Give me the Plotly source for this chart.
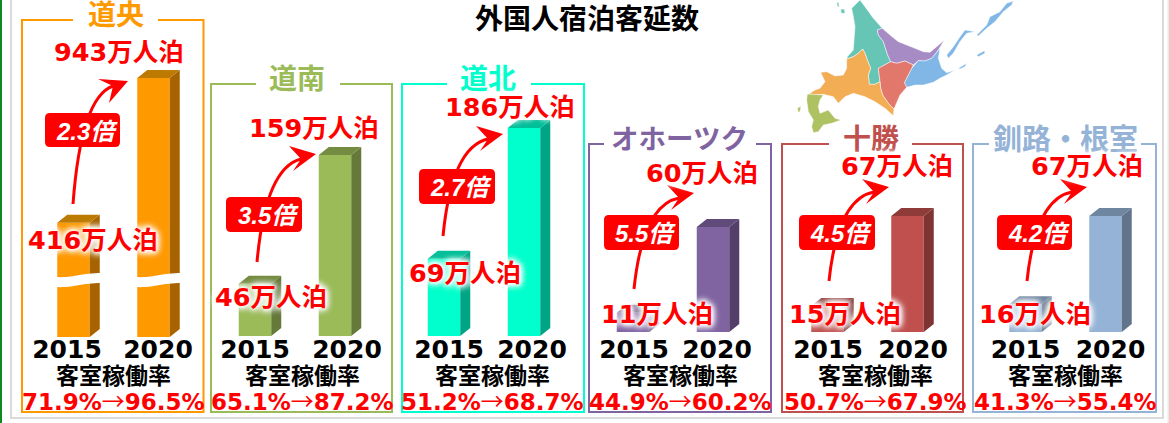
import plotly.graph_objects as go

W, H = 1169, 423

# ---------- data ----------
regions = ["道央", "道南", "道北", "オホーツク", "十勝", "釧路・根室"]
years = ["2015", "2020"]
guests_2015 = [416, 46, 69, 11, 15, 16]
guests_2020 = [943, 159, 186, 60, 67, 67]
multiples = ["2.3", "3.5", "2.7", "5.5", "4.5", "4.2"]
occupancy_2015 = ["71.9", "65.1", "51.2", "44.9", "50.7", "41.3"]
occupancy_2020 = ["96.5", "87.2", "68.7", "60.2", "67.9", "55.4"]
title_text = "外国人宿泊客延数"
occupancy_title = "客室稼働率"

# ---------- styles / layout ----------
front = ["#FF9900", "#9BBB59", "#00FFCC", "#8064A2", "#C0504D", "#95B3D7"]
side = ["#A66300", "#657A3A", "#00A585", "#533F6A", "#7D3432", "#61748C"]
top = ["#BD7A00", "#748C42", "#00BF99", "#5F4A79", "#8F3B39", "#6F86A1"]
label_col = ["#FF9900", "#9BBB59", "#00FFCC", "#8064A2", "#C0504D", "#95B3D7"]

bar0_center = [73.5, 255, 444, 633, 827.5, 1025.5]
base_px = [337, 336, 336, 332, 332, 332]
px_per_unit = [0.2747, 1.138, 1.118, 1.75, 1.73, 1.73]
axis_top = [1100, 190, 225, 75, 80, 80]
tick_px = [(67, 158), (255, 347), (449, 532), (634, 717), (828, 913), (1025.5, 1110.5)]
tick_standoff = [-5, -4, -4, 0, 0, 0]

box = [(22, 203.5, 20), (211, 392, 84), (402, 584, 84), (589, 771, 144), (782, 963, 144), (973, 1156, 144)]
box_bottom = 412
gap = [(73, 158), (256, 340), (447, 531), (604, 756), (829, 912), (989, 1141)]
label_xy = [(115.5, 13), (297, 77), (488, 77), (679, 137), (871, 137), (1065, 137)]
label_size = [28, 28, 28, 27.5, 28, 29]
mid_x = [113, 302, 492, 680, 875, 1065]
v20_xy = [(119, 52), (314, 128), (510, 107), (702, 173), (897, 166), (1087, 166)]
v15_xy = [(93, 240), (271, 297), (465, 273), (657, 314), (845, 314), (1035, 314)]

arrow_start = [(73, 204), (257, 262), (443, 236), (634, 289), (829, 281), (1027, 281)]
arrow_tip = [(128, 81), (316, 154), (503, 134), (694, 193), (889, 187), (1087, 187)]
mult_box = [(45, 120, 113, 147), (226, 302, 197, 232), (419, 495, 169, 204),
            (604, 679, 215, 250), (799, 875, 215, 250), (997, 1072, 215, 250)]

BAR_W = 32.5 / 80
SIDE_DX = 10 / 80
SIDE_DY_PX = 8

LATIN_CJK = "DejaVu Sans, Noto Sans CJK JP"
CJK = "Noto Sans CJK JP, DejaVu Sans"
GLOW = "0 0 3px #fff,0 0 5px #fff,0 0 7px #fff,0 0 7px #fff,0 0 9px #fff,0 0 9px #fff"


def px(x):
    return x / W


def py(y):
    return 1 - y / H


def P(x, y):
    return f"{px(x):.5f},{py(y):.5f}"


def poly(pts):
    return "M" + " L".join(P(*p) for p in pts) + " Z"


fig = go.Figure()
shapes, annots = [], []

# ---------- frame ----------
for x0, y0, x1, y1, c in [
    (0, 0, 2, 423, "#0A8A20"),
    (10, 0, 12, 419, "#DADADA"),
    (10, 417, 1164, 419, "#DADADA"),
    (1162, 0, 1164, 419, "#DADADA"),
    (1167.5, 0, 1169, 423, "#DDF0DD"),
]:
    shapes.append(dict(type="rect", xref="paper", yref="paper", x0=px(x0), x1=px(x1), y0=py(y0), y1=py(y1),
                       fillcolor=c, line_width=0, layer="below"))

# ---------- hokkaido map (decorative) ----------
MAP = [
    ("#66C5B5", [(210,0),(225,20),(250,55),(277,85),(262,90),(265,105),(280,125),(288,150),(293,165),(302,185),(265,205),(270,245),(255,253),(238,253),(235,225),(242,205),(232,180),(225,160),(218,147),(205,160),(190,170),(170,177),(172,170),(190,150),(192,120),(195,80),(190,50),(185,25),(200,10)]),
    ("#66C5B5", [(140,8),(145,6),(148,20),(143,20)]),
    ("#66C5B5", [(152,28),(163,27),(165,40),(154,40)]),
    ("#A68BC4", [(277,85),(300,105),(325,125),(350,135),(375,145),(400,155),(420,157),(440,140),(463,120),(445,150),(425,175),(405,183),(385,182),(370,195),(345,183),(320,190),(302,185),(293,165),(288,150),(280,125),(265,105),(262,90)]),
    ("#80B7E6", [(450,145),(445,175),(455,205),(470,218),(495,210),(470,225),(450,235),(430,247),(400,255),(375,255),(350,262),(343,248),(365,205),(385,182),(405,183),(425,175)]),
    ("#80B7E6", [(470,165),(490,140),(510,110),(525,90),(555,95),(530,100),(510,125),(490,160),(475,175)]),
    ("#80B7E6", [(560,105),(590,75),(600,50),(630,35),(650,10),(670,3),(665,15),(640,35),(615,65),(590,85),(565,108)]),
    ("#80B7E6", [(560,165),(583,152),(585,160),(565,170)]),
    ("#80B7E6", [(505,205),(530,190),(525,200),(510,207)]),
    ("#E2786C", [(302,185),(320,190),(345,183),(370,195),(365,205),(343,248),(350,262),(330,285),(315,320),(312,327),(295,310),(278,285),(272,265),(270,245),(265,205)]),
    ("#F2AD55", [(218,147),(225,160),(232,180),(242,205),(235,225),(238,253),(255,253),(270,245),(272,265),(278,285),(295,310),(312,327),(310,347),(285,325),(255,305),(225,290),(190,280),(165,290),(145,310),(130,290),(100,283),(70,285),(57,282),(75,270),(90,265),(105,245),(92,217),(110,215),(135,228),(160,225),(170,205),(170,177),(190,170),(205,160)]),
    ("#AEC163", [(52,282),(100,285),(90,300),(85,320),(90,340),(115,330),(135,355),(153,360),(125,370),(100,375),(85,395),(70,398),(65,380),(70,360),(55,335),(50,300)]),
    ("#AEC163", [(22,325),(33,318),(30,335),(25,337)]),
]
for col, pts in MAP:
    shapes.append(dict(type="path", xref="paper", yref="paper", layer="below", fillcolor=col,
                       line=dict(color="#FFFFFF", width=0.5),
                       path=poly([(790 + a / 3, b / 3) for a, b in pts])))

# ---------- panels, bars ----------
layout_axes = {}
for i, region in enumerate(regions):
    sfx = "" if i == 0 else str(i + 1)
    c0, base, scale = bar0_center[i], base_px[i], px_per_unit[i]
    height_px = axis_top[i] * scale
    layout_axes[f"xaxis{sfx}"] = dict(
        domain=[px(c0 - 40), px(c0 + 120)], range=[-0.5, 1.5], anchor=f"y{sfx}",
        showgrid=False, zeroline=False, showline=False, ticks="",
        tickvals=[(t - c0) / 80 for t in tick_px[i]], ticktext=years,
        tickangle=0, tickfont=dict(family="DejaVu Sans", size=25, color="#000000", weight="bold"),
        ticklabelstandoff=tick_standoff[i],
    )
    layout_axes[f"yaxis{sfx}"] = dict(
        domain=[py(base), py(base - height_px)], range=[0, axis_top[i]], anchor=f"x{sfx}",
        showgrid=False, zeroline=False, showline=False, showticklabels=False, ticks="",
    )
    xa, ya = f"x{sfx}", f"y{sfx}"
    vals = [guests_2015[i], guests_2020[i]]
    dy = SIDE_DY_PX / scale
    fig.add_trace(go.Bar(x=[0, 1], y=vals, width=BAR_W, marker=dict(color=front[i], line_width=0),
                         xaxis=xa, yaxis=ya, showlegend=False, hoverinfo="skip", name=region))
    for k, v in enumerate(vals):
        xl, xr = k - BAR_W / 2, k + BAR_W / 2
        fig.add_trace(go.Scatter(x=[xr, xr, xr + SIDE_DX, xr + SIDE_DX, xr], y=[0, v, v + dy, dy, 0],
                                 mode="lines", fill="toself", fillcolor=side[i], line_width=0,
                                 xaxis=xa, yaxis=ya, showlegend=False, hoverinfo="skip"))
        fig.add_trace(go.Scatter(x=[xl, xr, xr + SIDE_DX, xl + SIDE_DX, xl], y=[v, v, v + dy, v + dy, v],
                                 mode="lines", fill="toself", fillcolor=top[i], line_width=0,
                                 xaxis=xa, yaxis=ya, showlegend=False, hoverinfo="skip"))

    # panel outline with a gap for the heading
    l, r, t = box[i]
    g0, g1 = gap[i]
    outline = "M" + " L".join(P(*p) for p in [(g1, t), (r, t), (r, box_bottom), (l, box_bottom), (l, t), (g0, t)])
    shapes.append(dict(type="path", xref="paper", yref="paper", layer="below", path=outline,
                       line=dict(color=front[i], width=2)))

    # heading
    annots.append(dict(text=region, x=px(label_xy[i][0]), y=py(label_xy[i][1]), xref="paper", yref="paper",
                       showarrow=False, xanchor="center", yanchor="middle",
                       font=dict(family=CJK, size=label_size[i], color=label_col[i], weight="bold")))
    # value labels
    for val, (lx, ly) in ((guests_2015[i], v15_xy[i]), (guests_2020[i], v20_xy[i])):
        annots.append(dict(text=f"{val}万人泊", x=px(lx), y=py(ly), xref="paper", yref="paper",
                           showarrow=False, xanchor="center", yanchor="middle",
                           font=dict(family=LATIN_CJK, size=25.5, color="#FF0000", weight="bold", shadow=GLOW)))
    # occupancy
    annots.append(dict(text=occupancy_title, x=px(mid_x[i]), y=py(374), xref="paper", yref="paper",
                       showarrow=False, xanchor="center", yanchor="middle",
                       font=dict(family=CJK, size=23, color="#000000", weight="bold")))
    arrow_char = "<span style='font-family:Noto Sans CJK JP;font-weight:400'>→</span>"
    annots.append(dict(text=f"{occupancy_2015[i]}%{arrow_char}{occupancy_2020[i]}%",
                       x=px(mid_x[i]), y=py(400), xref="paper", yref="paper",
                       showarrow=False, xanchor="center", yanchor="middle",
                       font=dict(family="DejaVu Sans", size=23, color="#FF0000", weight="bold")))

    # curved arrow
    sx, sy = arrow_start[i]
    tx, ty = arrow_tip[i]
    dx_, dy_ = tx - sx, sy - ty
    nx, ny = tx - 15, ty + 5
    c1 = (sx + 0.1 * dx_, sy - 0.6 * dy_)
    c2 = (sx + 0.35 * dx_, ty + 0.1 * dy_)
    shapes.append(dict(type="path", xref="paper", yref="paper", layer="above",
                       path=f"M{P(sx, sy)} C{P(*c1)} {P(*c2)} {P(nx, ny)}",
                       line=dict(color="#FF0000", width=3)))
    b1, b2 = ((-30, -2), (-19, 22)) if i == 0 else ((-27, -8), (-23, 17))
    shapes.append(dict(type="path", xref="paper", yref="paper", layer="above", fillcolor="#FF0000", line_width=0,
                       path=poly([(tx, ty), (tx + b1[0], ty + b1[1]), (nx, ny), (tx + b2[0], ty + b2[1])])))
    # multiple badge
    x0, x1, y0, y1 = mult_box[i]
    rr = 5
    shapes.append(dict(type="path", xref="paper", yref="paper", layer="above", fillcolor="#FF0000", line_width=0,
                       path=(f"M{P(x0 + rr, y0)} L{P(x1 - rr, y0)} Q{P(x1, y0)} {P(x1, y0 + rr)} L{P(x1, y1 - rr)} "
                             f"Q{P(x1, y1)} {P(x1 - rr, y1)} L{P(x0 + rr, y1)} Q{P(x0, y1)} {P(x0, y1 - rr)} "
                             f"L{P(x0, y0 + rr)} Q{P(x0, y0)} {P(x0 + rr, y0)} Z")))
    annots.append(dict(text=f"{multiples[i]}倍", x=px((x0 + x1) / 2 + 4), y=py((y0 + y1) / 2 + 1), xref="paper", yref="paper",
                       showarrow=False, xanchor="center", yanchor="middle",
                       font=dict(family="Liberation Sans, Noto Sans CJK JP", size=24, color="#FFFFFF",
                                 weight="bold", style="italic")))

# axis-break wave across the two 道央 bars
for xl, xr in ((55, 102), (135, 182)):
    w = xr - xl
    path = (f"M{P(xl, 277)} C{P(xl + w * .45, 278)} {P(xl + w * .5, 273)} {P(xr, 273)} "
            f"L{P(xr, 283)} C{P(xl + w * .5, 283)} {P(xl + w * .45, 288)} {P(xl, 287)} Z")
    shapes.append(dict(type="path", xref="paper", yref="paper", layer="above", fillcolor="#FFFFFF", line_width=0, path=path))

annots.append(dict(text=title_text, x=px(587), y=py(17), xref="paper", yref="paper", showarrow=False,
                   xanchor="center", yanchor="middle",
                   font=dict(family=CJK, size=28, color="#000000", weight="bold")))

fig.update_layout(width=W, height=H, margin=dict(l=0, r=0, t=0, b=0, autoexpand=False), autosize=False,
                  paper_bgcolor="#FFFFFF", plot_bgcolor="rgba(0,0,0,0)", showlegend=False,
                  barmode="overlay", shapes=shapes, annotations=annots, **layout_axes)

fig.write_html("out.html", config={"displayModeBar": False},
               post_script="document.body.style.margin='0';document.body.style.overflow='hidden';")
